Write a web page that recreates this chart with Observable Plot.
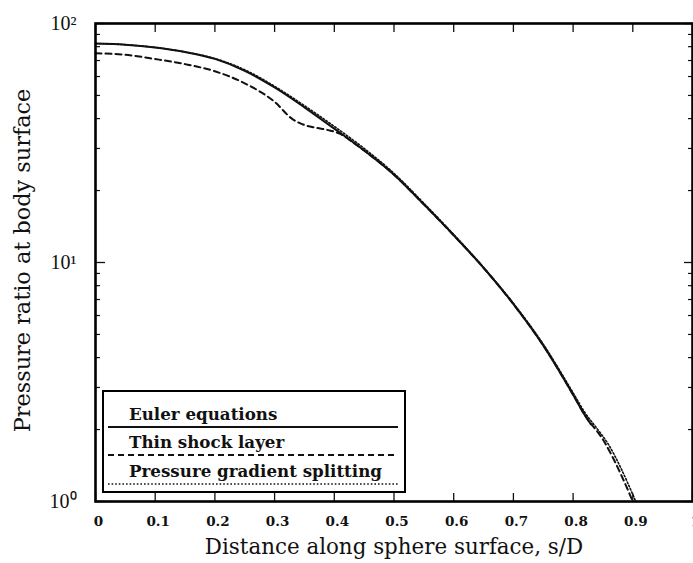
<!DOCTYPE html>
<html><head><meta charset="utf-8">
<script src="https://cdn.jsdelivr.net/npm/d3@7"></script>
<script src="https://cdn.jsdelivr.net/npm/@observablehq/plot@0.6"></script>
<style>
body{margin:0;background:#fff}
#wrap{position:relative;width:693px;height:563px;overflow:hidden}
#legend{position:absolute;left:102px;top:390px;width:304px;height:103px;border:2.5px solid #000;box-sizing:border-box;background:#fff;font-family:"DejaVu Serif",serif;font-size:16.7px;font-weight:bold;color:#111}
#legend .t{position:absolute;left:25px;white-space:nowrap;line-height:1}
#legend svg{position:absolute;left:3.5px}
</style></head>
<body><div id="wrap"><div id="chart"></div><div id="legend"></div></div>
<script>
// Euler equations (solid)
const sEuler = [0, 0.05, 0.1, 0.15, 0.2, 0.25, 0.3, 0.35, 0.4, 0.45, 0.5, 0.55, 0.6, 0.65, 0.7, 0.75, 0.8, 0.82, 0.83];
const pEuler = [82.4, 81.5, 79.4, 76.0, 71.1, 63.4, 54.0, 44.6, 36.3, 29.4, 23.3, 17.5, 13.0, 9.5, 6.7, 4.5, 2.8, 2.29, 2.1];
// Thin shock layer (dashed)
const sThin = [0, 0.05, 0.1, 0.15, 0.2, 0.25, 0.3, 0.33, 0.35, 0.37, 0.39, 0.41, 0.43, 0.45, 0.5, 0.55, 0.6, 0.65, 0.7, 0.75, 0.8, 0.82, 0.851, 0.88, 0.9];
const pThin = [75, 74, 71, 67.6, 63.1, 56.2, 47, 39.8, 37.6, 36.6, 35.8, 34.5, 32, 29.4, 23.3, 17.5, 13.0, 9.5, 6.7, 4.5, 2.8, 2.29, 1.8, 1.3, 1.0];
// Pressure gradient splitting (dotted)
const sSplit = [0, 0.05, 0.1, 0.15, 0.2, 0.25, 0.3, 0.35, 0.4, 0.45, 0.5, 0.55, 0.6, 0.65, 0.7, 0.75, 0.8, 0.82, 0.84, 0.86, 0.88, 0.905];
const pSplit = [82.4, 81.5, 79.4, 76.0, 71.4, 64, 54.6, 45.3, 37.1, 30, 23.6, 17.7, 13.1, 9.55, 6.75, 4.55, 2.85, 2.35, 2.02, 1.72, 1.38, 1.0];

const seriesNames = ["Euler equations", "Thin shock layer", "Pressure gradient splitting"];
const xTicks = [0, 0.1, 0.2, 0.3, 0.4, 0.5, 0.6, 0.7, 0.8, 0.9, 1];
const xTickLabels = ["0", "0.1", "0.2", "0.3", "0.4", "0.5", "0.6", "0.7", "0.8", "0.9", "1"];
const yMajor = [1, 10, 100];
const yMinor = [2, 3, 4, 5, 6, 7, 8, 9, 20, 30, 40, 50, 60, 70, 80, 90];
const sup = {0: "\u2070", 1: "\u00B9", 2: "\u00B2"};
const xTitle = "Distance along sphere surface, s/D";
const yTitle = "Pressure ratio at body surface";

const mk = (s, p) => s.map((x, i) => ({s: x, p: p[i]}));
const euler = mk(sEuler, pEuler), thin = mk(sThin, pThin), split = mk(sSplit, pSplit);

const styles = [
  {strokeWidth: 2, strokeDasharray: null},
  {strokeWidth: 2, strokeDasharray: "6,4"},
  {strokeWidth: 1.6, strokeDasharray: "1.6,2"}
];
const serif = "DejaVu Serif";

const chart = Plot.plot({
  width: 693, height: 563,
  marginLeft: 95, marginRight: 1, marginTop: 23, marginBottom: 62,
  style: {fontFamily: serif, color: "#111", background: "#fff"},
  x: {domain: [0, 1], label: null},
  y: {type: "log", domain: [1, 100], label: null},
  marks: [
    Plot.line(split, {x: "s", y: "p", stroke: "#111", strokeWidth: styles[2].strokeWidth, strokeDasharray: styles[2].strokeDasharray, curve: "monotone-x"}),
    Plot.line(thin, {x: "s", y: "p", stroke: "#111", strokeWidth: styles[1].strokeWidth, strokeDasharray: styles[1].strokeDasharray, curve: "monotone-x"}),
    Plot.line(euler, {x: "s", y: "p", stroke: "#111", strokeWidth: styles[0].strokeWidth, curve: "monotone-x"}),
    // inward ticks
    Plot.axisX(xTicks, {anchor: "bottom", tickSize: -8, text: null, strokeWidth: 1.3, label: null}),
    Plot.axisX(xTicks, {anchor: "top", tickSize: -8, text: null, strokeWidth: 1.3, label: null}),
    Plot.axisY(yMajor, {anchor: "left", tickSize: -10, text: null, strokeWidth: 1.3, label: null}),
    Plot.axisY(yMinor, {anchor: "left", tickSize: -5, text: null, strokeWidth: 1.2, label: null}),
    Plot.axisY(yMajor, {anchor: "right", tickSize: -9, text: null, strokeWidth: 1.3, label: null}),
    Plot.axisY(yMinor, {anchor: "right", tickSize: -5, text: null, strokeWidth: 1.2, label: null}),
    // tick labels
    Plot.axisX(xTicks, {anchor: "bottom", tickSize: 0, tickPadding: 15, dx: 3,
      tickFormat: (d) => xTickLabels[xTicks.indexOf(d)],
      fontSize: 13.5, fontWeight: "bold", fontFamily: serif, label: null}),
    Plot.axisY(yMajor, {anchor: "left", tickSize: 0, tickPadding: 19,
      tickFormat: (d) => "10" + sup[Math.round(Math.log10(d))],
      fontSize: 20, fontFamily: "Liberation Serif", label: null}),
    // axis titles
    Plot.text([xTitle], {frameAnchor: "bottom", dy: 46, lineAnchor: "middle", textAnchor: "middle", fontSize: 21.4, fontFamily: serif, text: (d) => d}),
    Plot.text([yTitle], {frameAnchor: "left", dx: -73, dy: -2, rotate: -90, textAnchor: "middle", lineAnchor: "middle", fontSize: 22.4, fontFamily: serif, text: (d) => d}),
    Plot.frame({stroke: "#000", strokeWidth: 2.6})
  ]
});
document.getElementById("chart").append(chart);

// Legend overlay
const legend = d3.select("#legend");
const rowTop = [14, 42, 71];
seriesNames.forEach((name, i) => {
  legend.append("div").attr("class", "t").style("top", rowTop[i] + "px").text(name);
  const svg = legend.append("svg").attr("width", 290).attr("height", 4).style("top", (rowTop[i] + 19) + "px");
  svg.append("line").attr("x1", 0).attr("x2", 290).attr("y1", 2).attr("y2", 2)
    .attr("stroke", "#111").attr("stroke-width", styles[i].strokeWidth)
    .attr("stroke-dasharray", styles[i].strokeDasharray);
});
</script>
</body></html>
